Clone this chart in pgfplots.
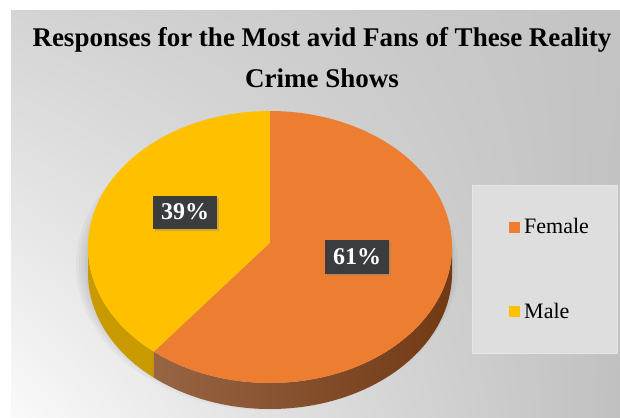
\documentclass[border=0pt]{standalone}
\usepackage{pgfplots}
\pgfplotsset{compat=1.18}
\usepackage{pgfplotstable}
\usetikzlibrary{shadows,shadings}
\usepackage{fontspec}
\setmainfont{Liberation Serif}
\definecolor{cFemale}{HTML}{ED7D31}
\definecolor{cMale}{HTML}{FFC000}
\definecolor{sFemale}{HTML}{7E3F16}
\definecolor{sMale}{HTML}{C99A00}
\definecolor{lblbox}{HTML}{3A3C3E}
\definecolor{legbox}{HTML}{DEDEDE}
\definecolor{legborder}{HTML}{E6E6E6}
\definecolor{bgUL}{HTML}{D4D4D4}
\definecolor{bgUR}{HTML}{C3C3C3}
\definecolor{bgLL}{HTML}{FAFAFA}
\definecolor{bgLR}{HTML}{C0C0C0}

\pgfplotstableread{
label  value
Female 61
Male   39
}\piedata

\begin{document}
\begin{tikzpicture}
\pgfplotstablegetelem{0}{value}\of\piedata \let\vF\pgfplotsretval
\pgfplotstablegetelem{1}{value}\of\piedata \let\vM\pgfplotsretval
\pgfmathsetmacro{\aS}{90}
\pgfmathsetmacro{\aM}{90+3.6*\vM}
\pgfmathsetmacro{\aE}{\aM+3.6*\vF}
\def\cx{270}\def\cy{247}\def\rx{182}\def\ry{136}\def\vx{270}\def\vy{243}\def\dep{26}
\begin{axis}[
  width=620pt, height=417pt, scale only axis,
  xmin=0, xmax=620, ymin=0, ymax=417, y dir=reverse,
  hide axis, clip=false,
]
% background
\fill[white] (axis cs:0,0) rectangle (axis cs:620,417);
\shade[shading=bilinear interpolation, upper left=bgUL, upper right=bgUR, lower left=bgLL, lower right=bgLR]
  (axis cs:11,11) rectangle (axis cs:620,417);
% legend box
\fill[legbox, draw=legborder] (axis cs:472,185) rectangle (axis cs:617,353);
% soft pie shadow
\fill[black, opacity=0.03] (axis cs:267,265) ellipse[x radius=191pt, y radius=145pt];
\fill[black, opacity=0.03] (axis cs:267,265) ellipse[x radius=188pt, y radius=142pt];
\fill[black, opacity=0.03] (axis cs:267,265) ellipse[x radius=185pt, y radius=139pt];
\fill[black, opacity=0.04] (axis cs:267,265) ellipse[x radius=182pt, y radius=136pt];
% sides
\fill[sMale] (axis cs:{\cx+\rx*cos(180)},{\cy-\ry*sin(180)}) arc[start angle=180, end angle=\aM, x radius=\rx pt, y radius=\ry pt]
   -- ++(0,-\dep pt) arc[start angle=\aM, end angle=180, x radius=\rx pt, y radius=\ry pt] -- cycle;
\shade[left color=sFemale!80!white, right color=sFemale!90!black] (axis cs:{\cx+\rx*cos(\aM)},{\cy-\ry*sin(\aM)}) arc[start angle=\aM, end angle=360, x radius=\rx pt, y radius=\ry pt]
   -- ++(0,-\dep pt) arc[start angle=360, end angle=\aM, x radius=\rx pt, y radius=\ry pt] -- cycle;
% top faces
\fill[cMale] (axis cs:\vx,\vy) -- (axis cs:{\cx+\rx*cos(\aS)},{\cy-\ry*sin(\aS)}) arc[start angle=\aS, end angle=\aM, x radius=\rx pt, y radius=\ry pt] -- cycle;
\fill[cFemale] (axis cs:\vx,\vy) -- (axis cs:{\cx+\rx*cos(\aM)},{\cy-\ry*sin(\aM)}) arc[start angle=\aM, end angle=\aE, x radius=\rx pt, y radius=\ry pt] -- cycle;
% data labels
\node[fill=lblbox, text=white, font=\bfseries\fontsize{24}{24}\selectfont, minimum width=64pt, minimum height=33pt, inner sep=0pt,
      drop shadow={opacity=0.35, shadow xshift=2pt, shadow yshift=-2pt}] at (axis cs:185,212) {\vM\%};
\node[fill=lblbox, text=white, font=\bfseries\fontsize{24}{24}\selectfont, minimum width=64pt, minimum height=34pt, inner sep=0pt,
      drop shadow={opacity=0.35, shadow xshift=2pt, shadow yshift=-2pt}] at (axis cs:357,257) {\vF\%};
% title
\node[anchor=base, font=\bfseries\fontsize{27}{27}\selectfont] at (axis cs:322,47) {Responses for the Most avid Fans of These Reality};
\node[anchor=base, font=\bfseries\fontsize{27}{27}\selectfont] at (axis cs:322,88) {Crime Shows};
% legend
\fill[cFemale] (axis cs:509,221.5) rectangle (axis cs:520,232.5);
\node[anchor=base west, inner sep=0pt, font=\fontsize{22}{22}\selectfont] at (axis cs:524,233) {Female};
\fill[cMale] (axis cs:509,306) rectangle (axis cs:520,317);
\node[anchor=base west, inner sep=0pt, font=\fontsize{22}{22}\selectfont] at (axis cs:524,318) {Male};
\end{axis}
\end{tikzpicture}
\end{document}
